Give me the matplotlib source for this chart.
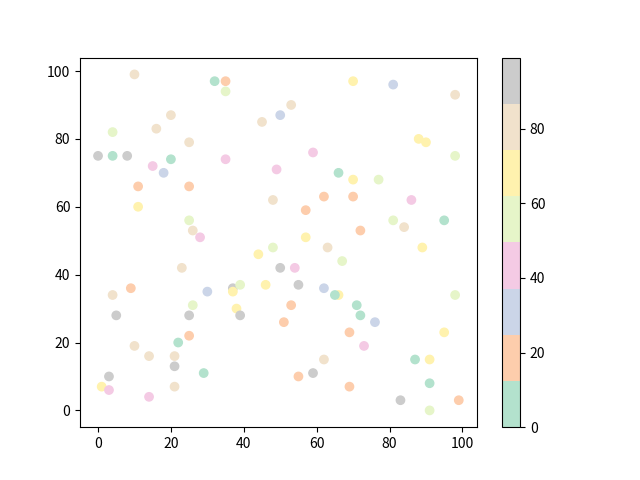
import matplotlib
matplotlib.use("Agg")
import matplotlib.pyplot as plt

plt.rcParams['font.family'] = ['Noto Sans CJK SC', 'DejaVu Sans']

x = [10, 32, 35, 35, 20, 16, 4, 45, 50, 25,
     0, 4, 8, 20, 15, 18, 35, 49, 11, 25,
     11, 48, 25, 26, 28, 48, 70, 81, 98, 53,
     88, 90, 98, 59, 66, 70, 77, 62, 70, 86,
     57, 81, 84, 95, 72, 57, 63, 89, 44, 23,
     50, 9, 4, 30, 37, 37, 39, 46, 26, 38,
     5, 25, 39, 25, 22, 10, 14, 21, 21, 3,
     29, 1, 3, 21, 14, 67, 54, 55, 62, 66,
     65, 98, 53, 71, 72, 76, 51, 69, 95, 73,
     62, 87, 91, 55, 59, 69, 91, 83, 99, 91]
y = [99, 97, 97, 94, 87, 83, 82, 85, 87, 79,
     75, 75, 75, 74, 72, 70, 74, 71, 66, 66,
     60, 62, 56, 53, 51, 48, 97, 96, 93, 90,
     80, 79, 75, 76, 70, 68, 68, 63, 63, 62,
     59, 56, 54, 56, 53, 51, 48, 48, 46, 42,
     42, 36, 34, 35, 36, 35, 37, 37, 31, 30,
     28, 28, 28, 22, 20, 19, 16, 16, 13, 10,
     11, 7, 6, 7, 4, 44, 42, 37, 36, 34,
     34, 34, 31, 31, 28, 26, 26, 23, 23, 19,
     15, 15, 15, 10, 11, 7, 8, 3, 3, 0]
colors = [80, 6, 18, 55, 80, 80, 55, 80, 31, 80,
          93, 6, 93, 6, 43, 31, 43, 43, 18, 18,
          68, 80, 55, 80, 43, 55, 68, 31, 80, 80,
          68, 68, 55, 43, 6, 68, 55, 18, 18, 43,
          18, 55, 80, 6, 18, 68, 80, 68, 68, 80,
          93, 18, 80, 31, 93, 68, 55, 68, 55, 68,
          93, 93, 93, 18, 6, 80, 80, 80, 93, 93,
          6, 68, 43, 80, 43, 55, 43, 93, 31, 68,
          6, 55, 18, 6, 6, 31, 18, 18, 68, 43,
          80, 6, 68, 18, 93, 18, 6, 93, 18, 55]

fig, ax = plt.subplots(figsize=(6.4, 4.8), dpi=100)
sc = ax.scatter(x, y, c=colors, cmap='Pastel2', vmin=0, vmax=99)
fig.colorbar(sc, ax=ax)
fig.savefig('out.png', dpi=100)
